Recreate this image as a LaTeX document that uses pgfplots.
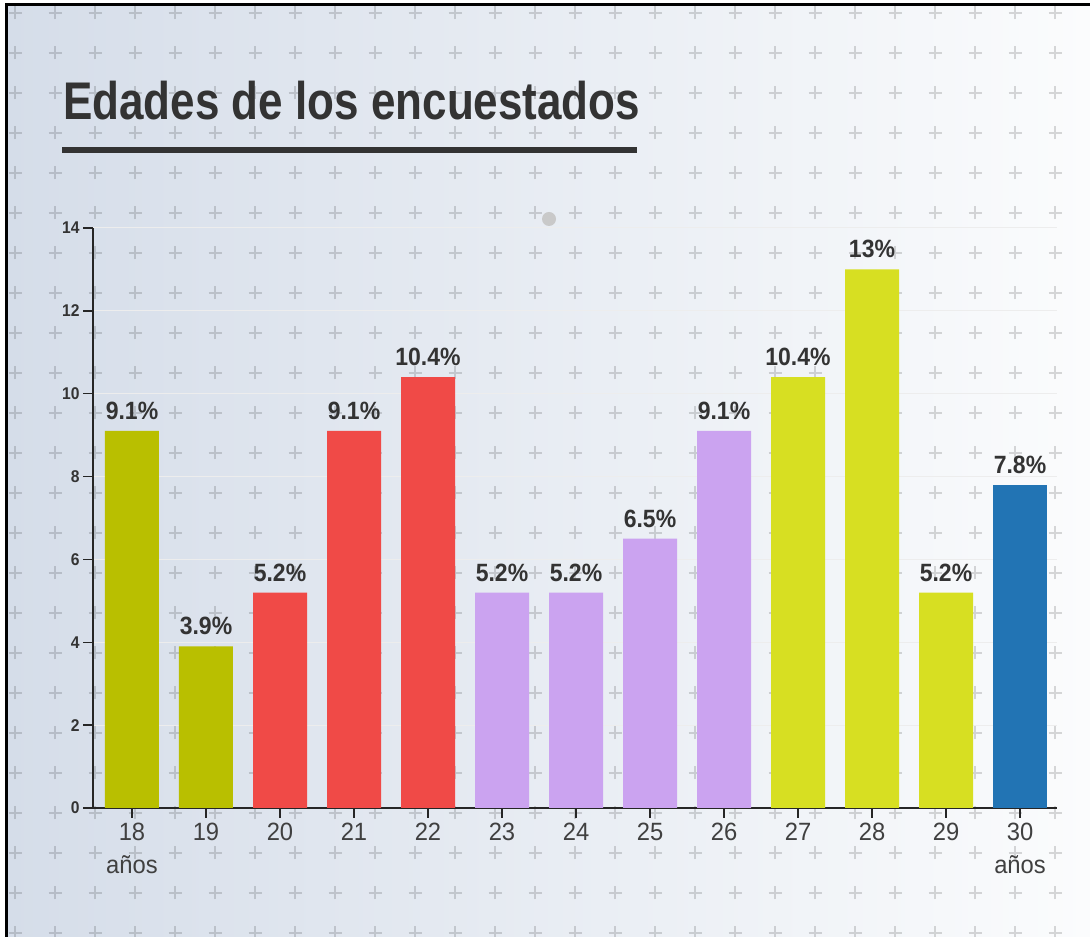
\documentclass[border=0pt]{standalone}
\usepackage{pgfplots}
\pgfplotsset{compat=1.18}
\usepackage{fontspec}
\setmainfont{Liberation Sans}[FakeStretch=0.83]
\newfontfamily\labelfont{Liberation Sans}[FakeStretch=0.92]
\newfontfamily\tickfont{Liberation Sans}[FakeStretch=0.95]

\definecolor{txt}{HTML}{333333}
\definecolor{olive}{HTML}{B9BF00}
\definecolor{redbar}{HTML}{F04A47}
\definecolor{lav}{HTML}{CBA3F0}
\definecolor{lime}{HTML}{D7DF22}
\definecolor{bluebar}{HTML}{2274B4}
\definecolor{bgleft}{HTML}{D5DDE9}
\definecolor{bgright}{HTML}{FBFCFD}

\begin{document}
\begin{tikzpicture}
% background, in pixel units
\begin{scope}[x=1pt,y=1pt]
\fill[white] (0,0) rectangle (1090,937);
\shade[left color=bgleft, right color=bgright] (6,0) rectangle (1090,932);
\foreach \i in {0,...,26}{
  \foreach \j in {0,...,23}{
    \draw[black, opacity=0.15, line width=2pt]
      ({15+40*\i-6.5},{924-40*\j}) -- ++(13,0)
      ({15+40*\i},{924-40*\j-6.5}) -- ++(0,13);
  }
}
\draw[black, line width=3pt] (6,0) -- (6,932) -- (1090,932);

% title
\node[anchor=base west, inner sep=0pt, text=txt, font=\fontsize{53}{60}\selectfont\bfseries] at (63,817) {Edades de los encuestados};
\fill[txt] (62,784) rectangle (637,790);
\fill[black!21] (549,718) circle (7);
\end{scope}

\begin{axis}[
    at={(93pt,129pt)}, anchor=south west,
    width=964pt, height=580pt, scale only axis,
    xmin=-0.527, xmax=12.5, ymin=0, ymax=14,
    ybar, bar width=54pt, bar shift=0pt,
    axis x line*=bottom, axis y line*=left,
    axis line style={draw=black!85, line width=1.3pt},
    tick style={draw=black!85, line width=1.3pt},
    major tick length=10pt, tick align=outside,
    ytick={0,2,...,14},
    xtick={0,...,12},
    xticklabels={{18\\años},19,20,21,22,23,24,25,26,27,28,29,{30\\años}},
    /pgf/number format/assume math mode=true,
    yticklabel style={font=\labelfont\fontsize{17}{20}\selectfont\bfseries, text=txt},
    xticklabel style={font=\tickfont\fontsize{25}{33}\selectfont, text=black!75, align=center, yshift=-2pt},
    ymajorgrids, grid style={draw=black!7, line width=1pt},
    nodes near coords={\pgfmathprintnumber{\pgfplotspointmeta}\%},
    every node near coord/.append style={font=\labelfont\fontsize{25}{28}\selectfont\bfseries, text=txt, inner sep=0pt, yshift=11pt},
]
\addplot[fill=olive, draw=none] coordinates {(0,9.1) (1,3.9)};
\addplot[fill=redbar, draw=none] coordinates {(2,5.2) (3,9.1) (4,10.4)};
\addplot[fill=lav, draw=none] coordinates {(5,5.2) (6,5.2) (7,6.5) (8,9.1)};
\addplot[fill=lime, draw=none] coordinates {(9,10.4) (10,13) (11,5.2)};
\addplot[fill=bluebar, draw=none] coordinates {(12,7.8)};
\end{axis}
\pgfresetboundingbox
\path[use as bounding box] (0,0) rectangle (1090pt,937pt);
\end{tikzpicture}
\end{document}
